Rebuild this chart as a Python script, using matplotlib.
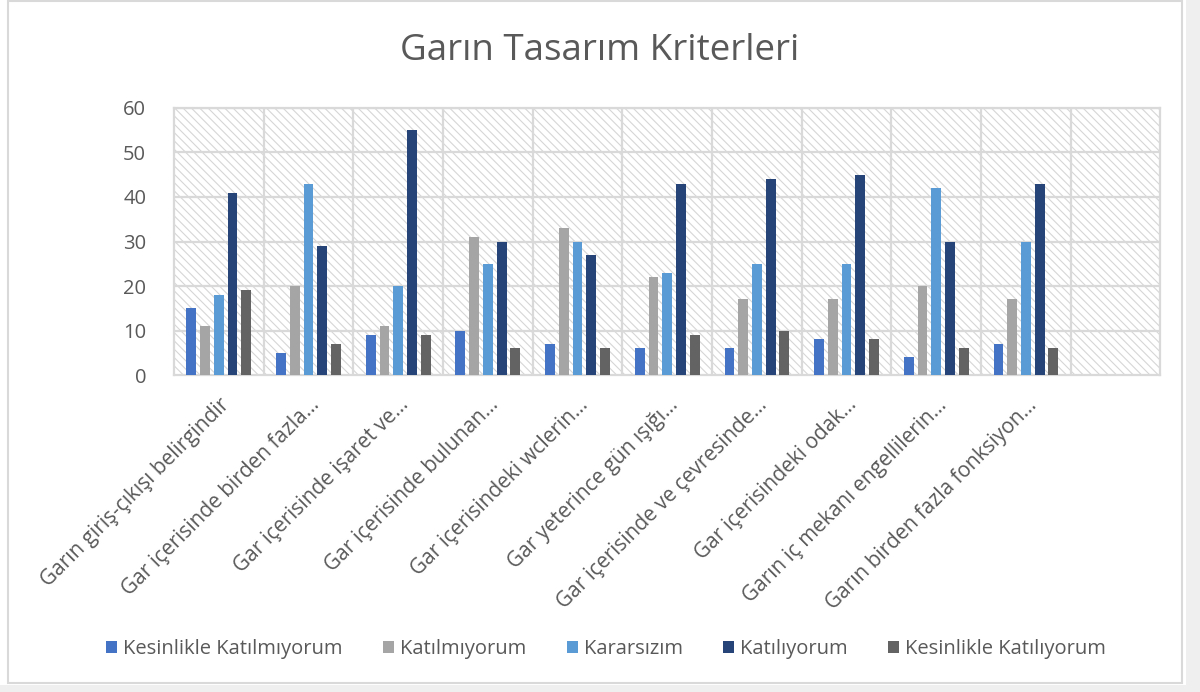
"""
Garın Tasarım Kriterleri - gruplanmış sütun grafiği (Excel stili).
"""

import numpy as np
import matplotlib.pyplot as plt
from matplotlib.patches import Rectangle

plt.rcParams["font.family"] = ["Open Sans", "DejaVu Sans"]
plt.rcParams["hatch.linewidth"] = 0.8

# Kategoriler (son kategori boş)
categories = [
    "Garın giriş-çıkışı belirgindir",
    "Gar içerisinde birden fazla...",
    "Gar içerisinde işaret ve...",
    "Gar içerisinde bulunan...",
    "Gar içerisindeki wclerin...",
    "Gar yeterince gün ışığı...",
    "Gar içerisinde ve çevresinde...",
    "Gar içerisindeki odak...",
    "Garın iç mekanı engellilerin...",
    "Garın birden fazla fonksiyon...",
    "",
]

series_names = [
    "Kesinlikle Katılmıyorum",
    "Katılmıyorum",
    "Kararsızım",
    "Katılıyorum",
    "Kesinlikle Katılıyorum",
]

kesinlikle_katilmiyorum = [15, 5, 9, 10, 7, 6, 6, 8, 4, 7, np.nan]
katilmiyorum = [11, 20, 11, 31, 33, 22, 17, 17, 20, 17, np.nan]
kararsizim = [18, 43, 20, 25, 30, 23, 25, 25, 42, 30, np.nan]
katiliyorum = [41, 29, 55, 30, 27, 43, 44, 45, 30, 43, np.nan]
kesinlikle_katiliyorum = [19, 7, 9, 6, 6, 9, 10, 8, 6, 6, np.nan]

series = [kesinlikle_katilmiyorum, katilmiyorum, kararsizim,
          katiliyorum, kesinlikle_katiliyorum]
colors = ["#4472C4", "#A5A5A5", "#5B9BD5", "#264478", "#636363"]

text_color = "#595959"
grid_color = "#D9D9D9"

fig = plt.figure(figsize=(12, 6.92), dpi=100)
ax = fig.add_axes([0.145, 0.458, 0.822, 0.386])

# Dış çerçeve ve hafif gölge
fig.patches.append(Rectangle((1186 / 1200, 0), 14 / 1200, 1, transform=fig.transFigure,
                             facecolor="#EFEFEF", edgecolor="none", zorder=-2))
fig.patches.append(Rectangle((0, 0), 1, 7 / 692, transform=fig.transFigure,
                             facecolor="#EFEFEF", edgecolor="none", zorder=-2))
fig.patches.append(Rectangle((8 / 1200, 9 / 692), 1174 / 1200, 682 / 692,
                             transform=fig.transFigure, fill=False,
                             edgecolor=grid_color, linewidth=1.5, zorder=-1))

x = np.arange(len(categories))
width = 0.11
step = 0.153
offsets = (np.arange(len(series)) - 2) * step

# Taralı arka plan
ax.add_patch(Rectangle((0, 0), 1, 1, transform=ax.transAxes, fill=False,
                       hatch="\\\\\\\\", edgecolor="#D6D6D6", linewidth=0, zorder=0))

for vals, name, col, off in zip(series, series_names, colors, offsets):
    ax.bar(x + off, vals, width=width, color=col, label=name, zorder=3)

ax.set_xlim(-0.5, len(categories) - 0.5)
ax.set_ylim(0, 60)
ax.set_yticks(np.arange(0, 61, 10))

# Izgara
for yv in np.arange(10, 61, 10):
    ax.axhline(yv, color=grid_color, linewidth=1.6, zorder=1)
for xv in np.arange(0.5, len(categories) - 0.5, 1):
    ax.axvline(xv, color=grid_color, linewidth=1.6, zorder=1)

for s in ax.spines.values():
    s.set_color(grid_color)
    s.set_linewidth(1.6)

ax.set_xticks(x)
ax.set_xticklabels(categories, rotation=45, ha="right", rotation_mode="anchor",
                   fontsize=15, color=text_color)
ax.tick_params(axis="x", length=0, pad=14)
ax.tick_params(axis="y", length=0, pad=20, labelsize=14.5, labelcolor=text_color)

fig.text(0.5, 0.927, "Garın Tasarım Kriterleri", ha="center", va="center",
         fontsize=26.5, color=text_color)

fig.legend(loc="center", bbox_to_anchor=(0.505, 0.062), ncol=5, frameon=False,
           fontsize=14.5, labelcolor=text_color, handlelength=0.55, handleheight=0.6,
           handletextpad=0.3, columnspacing=2.0)

fig.savefig("out.png", dpi=100)
